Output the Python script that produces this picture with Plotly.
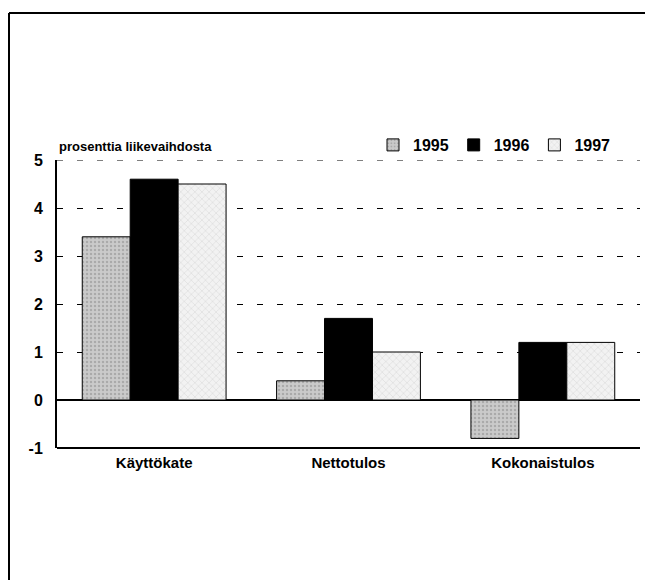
import plotly.graph_objects as go

categories = ["Käyttökate", "Nettotulos", "Kokonaistulos"]
years = ["1995", "1996", "1997"]
values_1995 = [3.4, 0.4, -0.8]
values_1996 = [4.6, 1.7, 1.2]
values_1997 = [4.5, 1.0, 1.2]
y_ticks = [-1, 0, 1, 2, 3, 4, 5]

FONT = "Liberation Sans Narrow, Arial Narrow, Liberation Sans, Arial, sans-serif"

fig = go.Figure()
fig.add_trace(go.Bar(
    name="1995", x=categories, y=values_1995,
    marker=dict(color="#c4c4c4", line=dict(color="black", width=1),
                pattern=dict(shape=".", fgcolor="#8a8a8a", bgcolor="#cacaca", size=4, solidity=0.3)),
))
fig.add_trace(go.Bar(
    name="1996", x=categories, y=values_1996,
    marker=dict(color="black", line=dict(color="black", width=1)),
))
fig.add_trace(go.Bar(
    name="1997", x=categories, y=values_1997,
    marker=dict(color="#eeeeee", line=dict(color="black", width=1),
                pattern=dict(shape="x", fgcolor="#a8a8a8", bgcolor="#f2f2f2", size=5, solidity=0.15)),
))

OFF = 8  # page body margin
W, H = 653 - 2 * OFF, 588 - 2 * OFF
# page-pixel plot box: left 57, right 640, top 160, bottom 448
L = 57 - OFF
T = 160 - OFF
R = W - (640 - OFF)
B = H - (448 - OFF)
pw = W - L - R
ph = H - T - B

def px_x(px):
    return (px - OFF - L) / pw

def px_y(py):
    return (H - B - (py - OFF)) / ph

fig.update_layout(
    width=W, height=H,
    margin=dict(l=L, r=R, t=T, b=B, pad=0),
    paper_bgcolor="white", plot_bgcolor="white",
    font=dict(family=FONT, size=14, color="black"),
    barmode="group", bargap=0.26, bargroupgap=0,
    showlegend=True,
    legend=dict(orientation="h", x=px_x(616), xanchor="right", y=px_y(162), yanchor="bottom",
                font=dict(family=FONT, size=16, color="black", weight="bold"),
                itemwidth=30, tracegroupgap=0, bgcolor="rgba(0,0,0,0)", borderwidth=0),
    xaxis=dict(showline=False, ticks="", showgrid=False, zeroline=False,
               tickfont=dict(family=FONT, size=15, color="black", weight="bold"),
               range=[-0.5, 2.5], ticklabelstandoff=4),
    yaxis=dict(range=[-1, 5], tickvals=y_ticks, ticktext=[str(v) for v in y_ticks],
               showline=True, linecolor="black", linewidth=2,
               ticks="inside", ticklen=4, tickwidth=1, tickcolor="black",
               showgrid=True, gridcolor="black", gridwidth=1, griddash="6px,14px",
               zeroline=True, zerolinecolor="black", zerolinewidth=1.5,
               tickfont=dict(family=FONT, size=16, color="black", weight="bold"),
               ticklabelstandoff=9),
    annotations=[dict(text="<b>prosenttia liikevaihdosta</b>", xref="paper", yref="paper",
                      x=0, y=px_y(146), xanchor="left", yanchor="middle", showarrow=False,
                      font=dict(family=FONT, size=13, color="black"))],
    shapes=[
        # gridline at the top of the range
        dict(type="line", xref="paper", yref="y", x0=0, x1=1, y0=5, y1=5,
             line=dict(color="black", width=1, dash="6px,14px"), layer="below"),
        # x axis line at -1
        dict(type="line", xref="paper", yref="paper", x0=0, x1=1, y0=0, y1=0,
             line=dict(color="black", width=2)),
        # outer frame: top and left edges (right and bottom lie outside the picture)
        dict(type="line", xref="paper", yref="paper",
             x0=px_x(9), x1=px_x(652), y0=px_y(13), y1=px_y(13),
             line=dict(color="black", width=2), layer="below"),
        dict(type="line", xref="paper", yref="paper",
             x0=px_x(9), x1=px_x(9), y0=px_y(13), y1=px_y(650),
             line=dict(color="black", width=2), layer="below"),
    ],
)

fig.write_html("out.html", config={"displayModeBar": False})
